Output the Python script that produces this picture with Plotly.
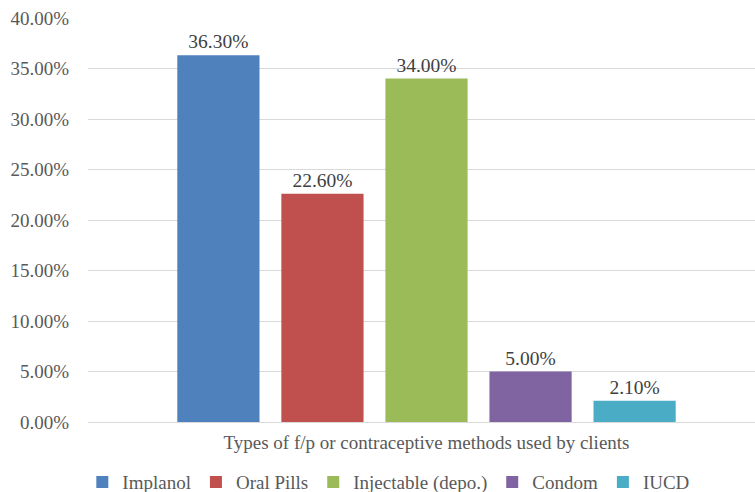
import plotly.graph_objects as go

# Share of clients using each family-planning / contraceptive method (%)
category = ["Types of f/p or contraceptive methods used by clients"]
methods = ["Implanol", "Oral Pills", "Injectable (depo.)", "Condom", "IUCD"]
shares = [36.3, 22.6, 34.0, 5.0, 2.1]
colors = ["#4F81BD", "#C0504D", "#9BBB59", "#8064A2", "#4BACC6"]

FONT = "Liberation Serif"

fig = go.Figure()
for name, val, col in zip(methods, shares, colors):
    fig.add_trace(go.Bar(
        x=category, y=[val], name=name,
        marker=dict(color=col, line=dict(width=0)),
        text=[f"{val:.2f}%"], textposition="outside",
        textfont=dict(family=FONT, size=19.5, color="#404040"),
        cliponaxis=False,
    ))

fig.update_layout(
    width=755, height=492,
    margin=dict(l=88, r=0, t=18, b=70, autoexpand=False),
    paper_bgcolor="white", plot_bgcolor="white",
    barmode="group", bargap=0.22, bargroupgap=0.21,
    font=dict(family=FONT, size=19, color="#595959"),
    showlegend=True,
    legend=dict(orientation="h", x=0.451, xanchor="center",
                yref="container", y=0.02, yanchor="middle",
                font=dict(family=FONT, size=19, color="#595959"),
                itemwidth=30, traceorder="normal"),
    hovermode=False,
)
fig.update_xaxes(
    range=[-0.5075, 0.4925], showgrid=False, showline=False, ticks="",
    tickfont=dict(family=FONT, size=19, color="#595959"),
    ticklabelstandoff=7, automargin=False,
)
fig.update_yaxes(
    range=[0, 40], dtick=5, tickformat=".2f", ticksuffix="%",
    showgrid=True, gridcolor="#D9D9D9", gridwidth=1.3,
    zeroline=True, zerolinecolor="#D9D9D9", zerolinewidth=1.3,
    tickfont=dict(family=FONT, size=19, color="#595959"),
    ticklabelstandoff=18, automargin=False,
)

fig.write_html("out.html")
